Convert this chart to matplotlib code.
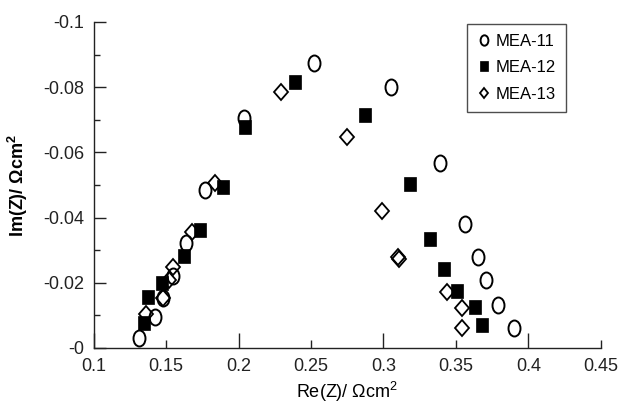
import matplotlib
matplotlib.use('Agg')
import matplotlib.pyplot as plt
from matplotlib.markers import MarkerStyle
from matplotlib.transforms import Affine2D
from matplotlib.ticker import MultipleLocator, FuncFormatter

plt.rcParams['font.family'] = ['Liberation Sans', 'DejaVu Sans']
plt.rcParams['axes.unicode_minus'] = False
plt.rcParams['mathtext.fontset'] = 'custom'
plt.rcParams['mathtext.rm'] = 'Liberation Sans'
plt.rcParams['mathtext.bf'] = 'Liberation Sans:bold'

# impedance spectra (Re, Im in ohm cm2)
re11 = [0.131, 0.1425, 0.148, 0.155, 0.164, 0.177, 0.204, 0.252, 0.305, 0.339,
        0.356, 0.365, 0.371, 0.379, 0.390]
im11 = [-0.0030, -0.0095, -0.0153, -0.0222, -0.0322, -0.0485, -0.0706, -0.0874,
        -0.0800, -0.0567, -0.0380, -0.0279, -0.0209, -0.0132, -0.0061]

re12 = [0.135, 0.1375, 0.147, 0.162, 0.173, 0.189, 0.2045, 0.239, 0.287, 0.3185,
        0.332, 0.342, 0.351, 0.363, 0.368]
im12 = [-0.0076, -0.0156, -0.0200, -0.0282, -0.0362, -0.0494, -0.0678, -0.0816,
        -0.0715, -0.0503, -0.0334, -0.0242, -0.0175, -0.0126, -0.0071]

re13 = [0.136, 0.148, 0.152, 0.155, 0.168, 0.184, 0.2295, 0.275, 0.299, 0.310,
        0.311, 0.344, 0.354, 0.354]
im13 = [-0.0105, -0.0153, -0.0210, -0.0248, -0.0356, -0.0506, -0.0785, -0.0647,
        -0.0420, -0.0278, -0.0274, -0.0172, -0.0123, -0.0061]

labels = ['MEA-11', 'MEA-12', 'MEA-13']


def squeezed(m, sx):
    return MarkerStyle(m, transform=Affine2D().scale(sx, 1.0))


fig = plt.figure(figsize=(6.22, 4.18), dpi=100)
ax = fig.add_axes([0.1508, 0.1675, 0.815, 0.78])

ax.plot(re13, im13, linestyle='none', marker=squeezed('D', 0.85), ms=7.8,
        mfc='none', mec='black', mew=1.3, zorder=3, label=labels[2])
ax.plot(re11, im11, linestyle='none', marker=squeezed('o', 0.75), ms=11.5,
        mfc='none', mec='black', mew=1.4, zorder=3, label=labels[0])
ax.plot(re12, im12, linestyle='none', marker=squeezed('s', 0.88), ms=10.5,
        mfc='black', mec='black', mew=0.5, zorder=4, label=labels[1])

ax.set_xlim(0.1, 0.45)
ax.set_ylim(0, -0.1)

fmt = FuncFormatter(lambda v, p: '%g' % round(v, 4))
ax.xaxis.set_major_locator(MultipleLocator(0.1))
ax.xaxis.set_minor_locator(MultipleLocator(0.05))
ax.xaxis.set_major_formatter(fmt)
ax.xaxis.set_minor_formatter(fmt)
ax.yaxis.set_major_locator(MultipleLocator(0.02))
ax.yaxis.set_minor_locator(MultipleLocator(0.01))
ax.yaxis.set_major_formatter(fmt)

ax.tick_params(axis='both', which='both', direction='in', width=1,
               labelsize=13, colors='#222222')
ax.tick_params(axis='x', which='major', length=11, pad=7)
ax.tick_params(axis='x', which='minor', length=6, pad=7)
ax.tick_params(axis='y', which='major', length=8.5, pad=7)
ax.tick_params(axis='y', which='minor', length=4.5)

for s in ['top', 'right']:
    ax.spines[s].set_visible(False)
for s in ['left', 'bottom']:
    ax.spines[s].set_color('#222222')
    ax.spines[s].set_linewidth(1)

ax.set_xlabel(r'Re(Z)/ Ωcm$^{\mathrm{2}}$', fontsize=13, labelpad=4)
ax.set_ylabel(r'Im(Z)/ Ωcm$^{\mathbf{2}}$', fontsize=13, fontweight='bold',
              labelpad=9)

h, l = ax.get_legend_handles_labels()
order = [1, 2, 0]
leg = ax.legend([h[i] for i in order], [l[i] for i in order],
                loc='upper right', bbox_to_anchor=(0.932, 0.995),
                fontsize=12, frameon=True, fancybox=False, markerscale=0.65,
                handlelength=0.8, handletextpad=0.35, labelspacing=0.7,
                borderpad=0.6, borderaxespad=0)
leg.get_frame().set_edgecolor('#222222')
leg.get_frame().set_linewidth(1)

fig.savefig('out.png', dpi=100)
